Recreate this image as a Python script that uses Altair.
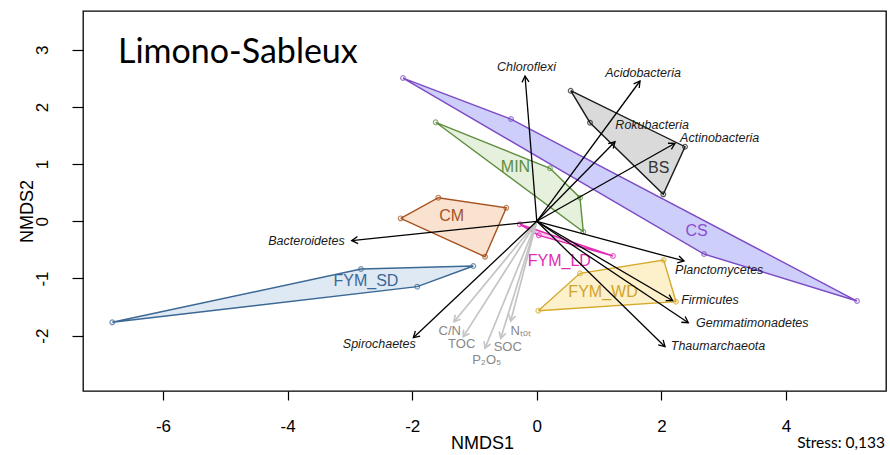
import math
import altair as alt
import pandas as pd

# ---------------- data ----------------
X_MIN, X_MAX = -7.284, 5.605
Y_MIN, Y_MAX = -2.967, 3.677
W, H = 803, 380

groups = ["MIN", "CM", "FYM_SD", "FYM_LD", "FYM_WD", "BS", "CS"]
fill_colors = ["#E2EED9", "#FADFCC", "#DCE7F3", "#F7C6EE", "#FDEFC6", "#D6D6D6", "#C9C9FB"]
stroke_colors = ["#5E8E3E", "#A5531F", "#3B6894", "#E22DB5", "#D6AA2E", "#1A1A1A", "#7D4CC4"]
label_colors = ["#5E8E3E", "#A5531F", "#3B6894", "#E22DB5", "#D0A42A", "#333333", "#8A4FCF"]

hull_x = {
    "MIN": [-1.623, 0.212, 0.693, 0.746],
    "CM": [-2.185, -1.581, -0.490, -0.831],
    "FYM_SD": [-6.814, -2.822, -1.019, -1.918],
    "FYM_LD": [-0.274, 1.223, 0.032],
    "FYM_WD": [0.024, 0.693, 2.037, 2.234],
    "BS": [0.544, 2.379, 2.030, 0.854],
    "CS": [-2.148, -0.414, 5.140, 2.684],
}
hull_y = {
    "MIN": [1.731, 0.927, 0.413, -0.182],
    "CM": [0.052, 0.413, 0.236, -0.619],
    "FYM_SD": [-1.766, -0.834, -0.781, -1.143],
    "FYM_LD": [-0.052, -0.607, -0.245],
    "FYM_WD": [-1.563, -0.909, -0.677, -1.406],
    "BS": [2.283, 1.304, 0.472, 1.724],
    "CS": [2.505, 1.788, -1.394, -0.572],
}
group_label_x = [-0.342, -1.366, -2.742, 0.361, 1.063, 1.957, 2.565]
group_label_y = [0.944, 0.093, -1.038, -0.697, -1.241, 0.927, -0.170]

species = ["Chloroflexi", "Acidobacteria", "Rokubacteria", "Actinobacteria", "Bacteroidetes",
           "Spirochaetes", "Planctomycetes", "Firmicutes", "Gemmatimonadetes", "Thaumarchaeota"]
species_tip_x = [-0.189, 1.657, 1.255, 2.218, -2.971, -1.982, 2.363, 2.181, 2.432, 2.058]
species_tip_y = [2.540, 2.453, 1.392, 1.364, -0.339, -2.035, -0.694, -1.388, -1.773, -2.192]
species_lab_x = [-0.165, 1.705, 1.852, 2.936, -3.697, -2.528, 2.928, 2.780, 3.459, 2.909]
species_lab_y = [2.703, 2.598, 1.684, 1.462, -0.339, -2.150, -0.851, -1.376, -1.783, -2.175]

env = ["C/N", "TOC", "P₂O₅", "SOC", "Nₜₒₜ"]
env_tip_x = [-1.329, -1.180, -0.831, -0.579, -0.419]
env_tip_y = [-1.755, -2.017, -2.220, -2.045, -1.743]
env_lab_x = [-1.398, -1.205, -0.804, -0.467, -0.258]
env_lab_y = [-1.918, -2.150, -2.425, -2.192, -1.913]

x_ticks = [-6, -4, -2, 0, 2, 4]
y_ticks = [-2, -1, 0, 1, 2, 3]

# ---------------- tables ----------------
rows = []
for g in groups:
    xs, ys = hull_x[g], hull_y[g]
    n = len(xs)
    for i in range(n + 1):
        rows.append({"group": g, "ord": i, "x": xs[i % n], "y": ys[i % n], "vertex": i < n})
hull_df = pd.DataFrame(rows)
vert_df = hull_df[hull_df["vertex"]]
glab_df = pd.DataFrame({"group": groups, "x": group_label_x, "y": group_label_y})

KX = W / (X_MAX - X_MIN)
KY = H / (Y_MAX - Y_MIN)


def arrow_df(names, tx, ty, lx, ly):
    d = pd.DataFrame({"name": names, "tx": tx, "ty": ty, "lx": lx, "ly": ly})
    d["x0"] = 0.0
    d["y0"] = 0.0
    d["ang"] = [(math.degrees(math.atan2(a * KX, b * KY)) + 360) % 360 for a, b in zip(tx, ty)]
    return d


sp_df = arrow_df(species, species_tip_x, species_tip_y, species_lab_x, species_lab_y)
env_df = arrow_df(env, env_tip_x, env_tip_y, env_lab_x, env_lab_y)

# ---------------- encodings ----------------
FONT = "Liberation Sans"
x_scale = alt.Scale(domain=[X_MIN, X_MAX], nice=False, zero=False)
y_scale = alt.Scale(domain=[Y_MIN, Y_MAX], nice=False, zero=False)
x_axis = alt.Axis(values=x_ticks, title="NMDS1", grid=False, domain=False, tickSize=9,
                  tickColor="black", tickWidth=1.2, labelPadding=26, labelBaseline="middle",
                  labelExpr="toString(datum.value)",
                  labelFontSize=17, labelFont=FONT, labelColor="black", labelFlush=False,
                  titleFontSize=18, titleFont=FONT, titleFontWeight="normal", titleColor="black",
                  titleX=399, titleY=52, titleBaseline="middle", titleAlign="center")
y_axis = alt.Axis(values=y_ticks, title="NMDS2", grid=False, domain=False, tickSize=11,
                  tickColor="black", tickWidth=1.2, labelPadding=30, labelAngle=270,
                  labelExpr="toString(datum.value)",
                  labelAlign="center", labelBaseline="middle", labelFontSize=17, labelFont=FONT,
                  labelColor="black", labelFlush=False,
                  titleFontSize=18, titleFont=FONT, titleFontWeight="normal", titleColor="black",
                  titleX=-56, titleY=200, titleBaseline="middle", titleAlign="center", titleAngle=270)


def X(f):
    return alt.X(f, type="quantitative", scale=x_scale, axis=x_axis)


def Y(f):
    return alt.Y(f, type="quantitative", scale=y_scale, axis=y_axis)


fill_scale = alt.Scale(domain=groups, range=fill_colors)
stroke_scale = alt.Scale(domain=groups, range=stroke_colors)
label_scale = alt.Scale(domain=groups, range=label_colors)

poly_fill = alt.Chart(hull_df).mark_line(strokeOpacity=0, fillOpacity=0.9).encode(
    x=X("x"), y=Y("y"), order="ord:Q", detail="group:N",
    fill=alt.Fill("group:N", scale=fill_scale, legend=None),
)
poly_stroke = alt.Chart(hull_df).mark_line(strokeWidth=1.4).encode(
    x=X("x"), y=Y("y"), order="ord:Q", detail="group:N",
    stroke=alt.Stroke("group:N", scale=stroke_scale, legend=None),
)
verts = alt.Chart(vert_df).mark_point(shape="circle", filled=False, size=22, strokeWidth=1.2).encode(
    x=X("x"), y=Y("y"),
    stroke=alt.Stroke("group:N", scale=stroke_scale, legend=None),
)
glabels = alt.Chart(glab_df).mark_text(font=FONT, fontSize=16, baseline="middle", align="center").encode(
    x=X("x"), y=Y("y"), text="group:N",
    color=alt.Color("group:N", scale=label_scale, legend=None),
)

HEAD = "M-0.5,0.87L0,0L0.5,0.87"


def arrows(df, color, width):
    rule = alt.Chart(df).mark_rule(color=color, strokeWidth=width).encode(
        x=X("x0"), y=Y("y0"), x2="tx:Q", y2="ty:Q")
    head = alt.Chart(df).mark_point(shape=HEAD, filled=False, size=196, stroke=color,
                                    strokeWidth=width, opacity=1).encode(
        x=X("tx"), y=Y("ty"), angle=alt.Angle("ang:Q", scale=None))
    return rule + head


env_arrows = arrows(env_df, "#C4C4C4", 1.7)
sp_arrows = arrows(sp_df, "#000000", 1.3)

sp_labels = alt.Chart(sp_df).mark_text(font=FONT, fontSize=12.5, fontStyle="italic", color="#1A1A1A",
                                       align="center", baseline="middle").encode(
    x=X("lx"), y=Y("ly"), text="name:N")
env_labels = alt.Chart(env_df).mark_text(font=FONT, fontSize=13, color="#888888",
                                         align="center", baseline="middle").encode(
    x=X("lx"), y=Y("ly"), text="name:N")

title = alt.Chart(pd.DataFrame({"t": ["Limono-Sableux"]})).mark_text(
    font="Lato", fontSize=34, color="black", align="left", baseline="alphabetic").encode(
    x=alt.value(35), y=alt.value(52), text="t:N")
stress = alt.Chart(pd.DataFrame({"t": ["Stress: 0,133"]})).mark_text(
    font="Lato", fontSize=15.5, color="black", align="right", baseline="middle").encode(
    x=alt.value(802), y=alt.value(432), text="t:N")

chart = alt.layer(
    poly_fill, poly_stroke, verts, glabels, env_arrows, sp_arrows, sp_labels, env_labels, title, stress
).properties(
    width=W, height=H,
    autosize=alt.AutoSizeParams(type="none"),
    padding={"left": 83, "top": 11, "right": 4, "bottom": 64},
    background="white",
).configure_view(stroke="black", strokeWidth=1.3)

chart.save("out.html", embed_options={"renderer": "svg", "actions": False})
